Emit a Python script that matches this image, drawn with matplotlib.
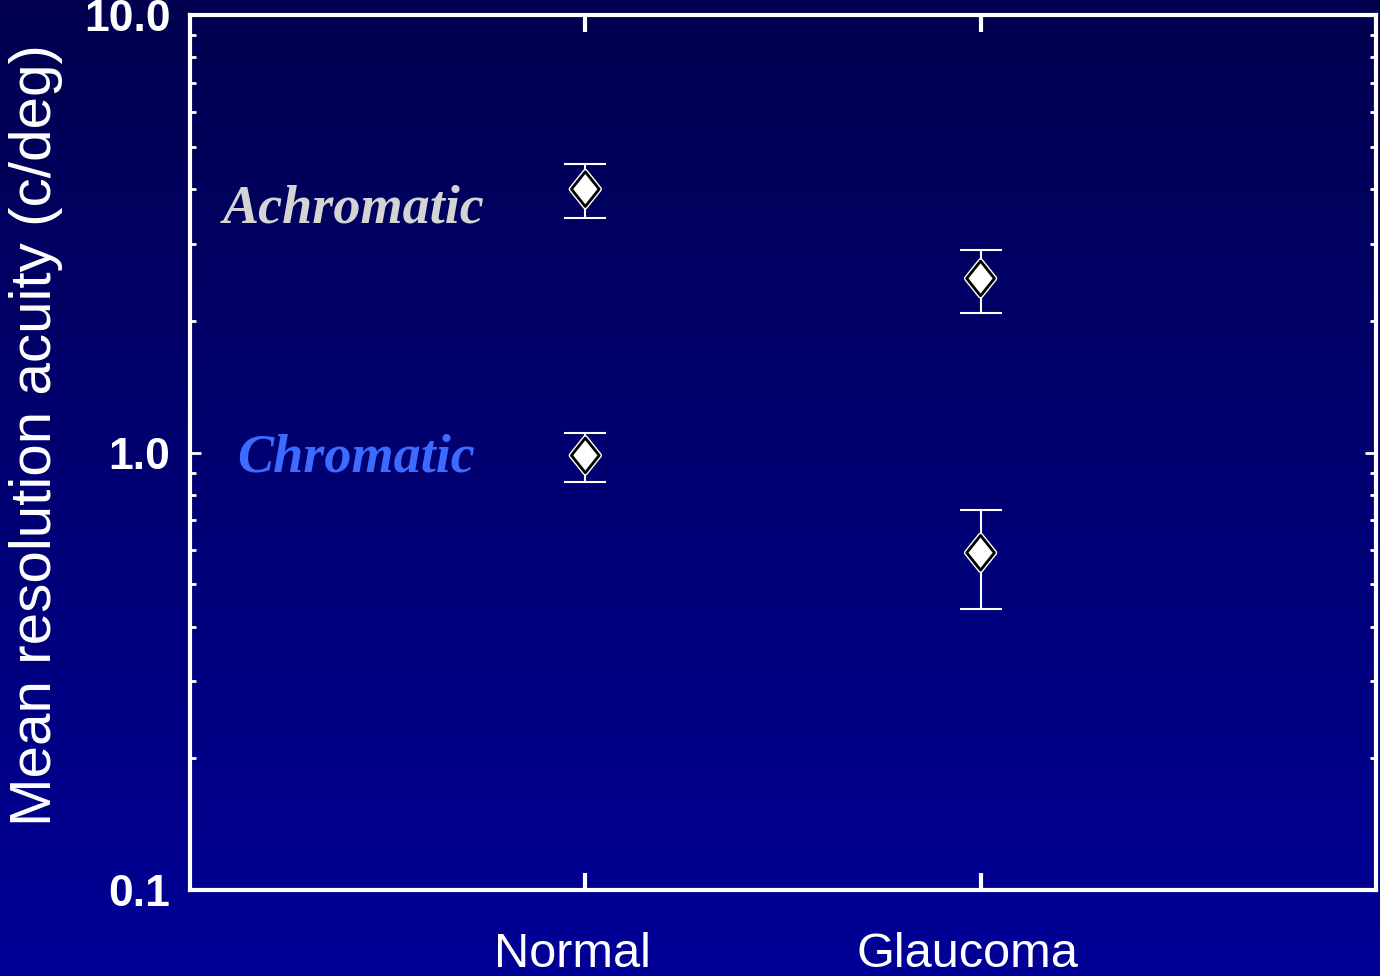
import numpy as np
import matplotlib
matplotlib.use('Agg')
import matplotlib.pyplot as plt
import matplotlib.patheffects as pe
from matplotlib.path import Path
from matplotlib.transforms import ScaledTranslation
from matplotlib.colors import LinearSegmentedColormap
from matplotlib.ticker import LogLocator, NullFormatter, FixedLocator

# data
groups = ['Normal', 'Glaucoma']
group_x = [1, 2]

achromatic_mean = [4.0, 2.5]
achromatic_hi = [4.57, 2.91]
achromatic_lo = [3.44, 2.08]

chromatic_mean = [0.985, 0.59]
chromatic_hi = [1.11, 0.74]
chromatic_lo = [0.855, 0.438]

ytick_vals = [0.1, 1.0, 10.0]
ytick_labels = ['0.1', '1.0', '10.0']

fig = plt.figure(figsize=(13.8, 9.76), dpi=100)

# background gradient
bg = fig.add_axes([0, 0, 1, 1], zorder=-10)
cmap = LinearSegmentedColormap.from_list('bg', ['#00004f', '#000097'])
bg.imshow(np.linspace(0, 1, 256).reshape(-1, 1), aspect='auto', cmap=cmap,
          extent=[0, 1, 0, 1])
bg.axis('off')

ax = fig.add_axes([0.1377, 0.0881, 0.8593, 0.8965])
ax.patch.set_alpha(0)
ax.set_yscale('log')
ax.set_ylim(0.1, 10)
ax.set_xlim(0, 3)

for sp in ax.spines.values():
    sp.set_color('white')
    sp.set_linewidth(3)

# diamond marker
diamond = Path([(0, 1), (0.8, 0), (0, -1), (-0.8, 0), (0, 1)],
               [Path.MOVETO, Path.LINETO, Path.LINETO, Path.LINETO, Path.CLOSEPOLY])

def draw_series(means, lo, hi):
    means = np.array(means)
    yerr = [means - np.array(lo), np.array(hi) - means]
    ax.errorbar(group_x, means, yerr=yerr, fmt='none', ecolor='white',
                elinewidth=1.5, capsize=15, capthick=1.5, zorder=3)
    ln, = ax.plot(group_x, means, linestyle='none', marker=diamond,
                  markersize=25, markerfacecolor='white',
                  markeredgecolor='black', markeredgewidth=2, zorder=4)
    ln.set_path_effects([pe.Stroke(linewidth=4, foreground='white'), pe.Normal()])

draw_series(achromatic_mean, achromatic_lo, achromatic_hi)
draw_series(chromatic_mean, chromatic_lo, chromatic_hi)

# ticks
ax.yaxis.set_major_locator(FixedLocator(ytick_vals))
ax.set_yticklabels(ytick_labels)
ax.yaxis.set_minor_locator(LogLocator(base=10, subs=np.arange(2, 10)))
ax.yaxis.set_minor_formatter(NullFormatter())
ax.tick_params(axis='y', which='major', direction='in', length=8, width=2,
               colors='white', left=True, right=True, pad=14,
               labelsize=32)
ax.tick_params(axis='y', which='minor', direction='in', length=4, width=2,
               colors='white', left=True, right=True)
for lbl in ax.get_yticklabels():
    lbl.set_fontweight('bold')
    lbl.set_fontfamily('Liberation Sans')

ax.set_xticks(group_x)
ax.set_xticklabels(groups)
ax.tick_params(axis='x', direction='in', length=12, width=3, colors='white',
               top=True, bottom=True, pad=30, labelsize=35)
for lbl in ax.get_xticklabels():
    lbl.set_fontfamily('Liberation Sans')
    lbl.set_transform(lbl.get_transform() +
                      ScaledTranslation(-0.13, 0, fig.dpi_scale_trans))

ax.set_ylabel('Mean resolution acuity (c/deg)', color='white', fontsize=42,
              family='Liberation Sans')
ax.yaxis.set_label_coords(-0.107, 0.52)

ax.text(0.415, 3.6, 'Achromatic', color='#d4d4d4', fontsize=39,
        family='Liberation Serif', fontweight='bold', style='italic',
        ha='center', va='center')
ax.text(0.42, 0.97, 'Chromatic', color='#3d6bff', fontsize=39,
        family='Liberation Serif', fontweight='bold', style='italic',
        ha='center', va='center')

fig.savefig('out.png', dpi=100)
